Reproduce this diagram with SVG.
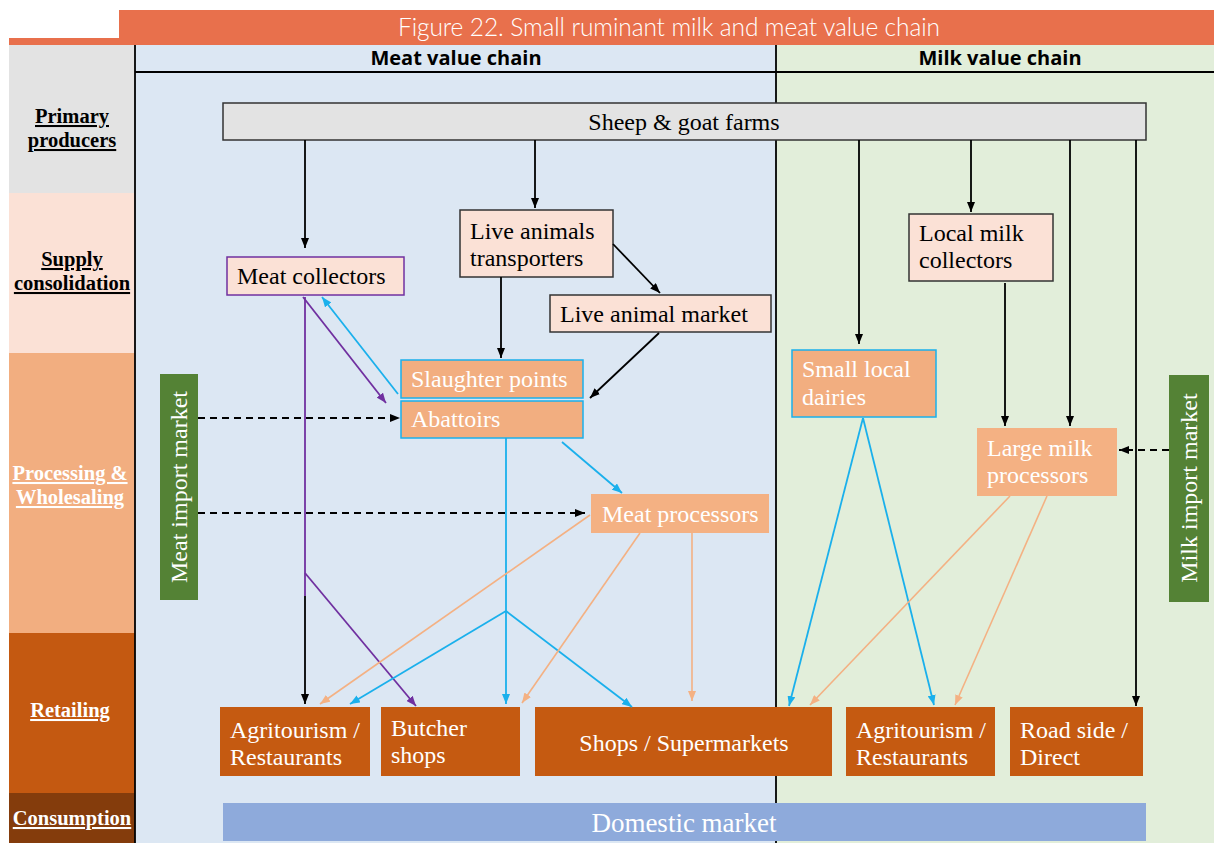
<svg xmlns="http://www.w3.org/2000/svg" width="1214" height="843" viewBox="0 0 1214 843">
<style>
.lbl{font-family:"Liberation Serif",serif;font-weight:bold;font-size:20.5px;text-decoration:underline;text-anchor:middle}
.t{font-family:"Liberation Serif",serif;font-size:24px;fill:#000}
.w{fill:#fff}
.big{font-size:27px}
.hdr{font-family:"Open Sans","Liberation Sans",sans-serif;font-weight:bold;font-size:20px;text-anchor:middle;fill:#000}
.k{stroke:#000;stroke-width:1.8;fill:none}
.d{stroke:#000;stroke-width:1.8;fill:none;stroke-dasharray:7 5}
.b{stroke:#1AB0EC;stroke-width:1.8;fill:none}
.p{stroke:#7030A0;stroke-width:1.8;fill:none}
.o{stroke:#F4B183;stroke-width:1.6;fill:none}
.pink{fill:#FBE1D6}
.proc{fill:#F2AE80}
.ret{fill:#C55A11}
.grn{fill:#548235}
</style>
<defs>
<marker id="ak" viewBox="0 0 10 10" refX="10" refY="5" markerWidth="10" markerHeight="8" markerUnits="userSpaceOnUse" orient="auto" preserveAspectRatio="none"><path d="M0,0L10,5L0,10z" fill="#000"/></marker>
<marker id="ab" viewBox="0 0 10 10" refX="10" refY="5" markerWidth="10" markerHeight="8" markerUnits="userSpaceOnUse" orient="auto" preserveAspectRatio="none"><path d="M0,0L10,5L0,10z" fill="#1AB0EC"/></marker>
<marker id="ap" viewBox="0 0 10 10" refX="10" refY="5" markerWidth="10" markerHeight="8" markerUnits="userSpaceOnUse" orient="auto" preserveAspectRatio="none"><path d="M0,0L10,5L0,10z" fill="#7030A0"/></marker>
<marker id="ao" viewBox="0 0 10 10" refX="10" refY="5" markerWidth="10" markerHeight="8" markerUnits="userSpaceOnUse" orient="auto" preserveAspectRatio="none"><path d="M0,0L10,5L0,10z" fill="#F4B183"/></marker>
</defs>
<rect width="1214" height="843" fill="#fff"/>
<!-- title -->
<g id="title">
<rect x="119" y="10" width="1095" height="35" fill="#E8704C"/>
<rect x="9" y="38" width="110" height="7" fill="#E8704C"/>
<text x="398" y="36" font-family="Lato,'Open Sans',sans-serif" font-weight="300" font-size="24.5" fill="#fff" textLength="542" lengthAdjust="spacing">Figure 22. Small ruminant milk and meat value chain</text>
</g>
<!-- regions -->
<g id="regions">
<rect x="135" y="45" width="641" height="798" fill="#DCE7F3"/>
<rect x="776" y="45" width="438" height="798" fill="#E2EEDA"/>
<rect x="9" y="45" width="126" height="148" fill="#E3E3E3"/>
<rect x="9" y="193" width="126" height="160" fill="#FBE1D6"/>
<rect x="9" y="353" width="126" height="280" fill="#F2AE80"/>
<rect x="9" y="633" width="126" height="160" fill="#C45911"/>
<rect x="9" y="793" width="126" height="50" fill="#843C0C"/>
<line x1="135" y1="45" x2="135" y2="843" stroke="#000" stroke-width="1.8"/>
<line x1="776" y1="45" x2="776" y2="843" stroke="#000" stroke-width="1.8"/>
<line x1="135" y1="72" x2="1214" y2="72" stroke="#000" stroke-width="1.8"/>
<text class="hdr" x="456" y="65">Meat value chain</text>
<text class="hdr" x="1000" y="65">Milk value chain</text>
<text class="lbl" x="72" y="123">Primary</text>
<text class="lbl" x="72" y="147">producers</text>
<text class="lbl" x="72" y="266">Supply</text>
<text class="lbl" x="72" y="290">consolidation</text>
<text class="lbl w" x="70" y="480">Processing &amp;</text>
<text class="lbl w" x="70" y="504">Wholesaling</text>
<text class="lbl w" x="70" y="717">Retailing</text>
<text class="lbl w" x="72" y="825">Consumption</text>
</g>
<!-- nodes -->
<g id="farms"><rect x="223" y="103" width="923" height="37" fill="#E3E3E3" stroke="#333" stroke-width="1.5"/><text class="t" x="684" y="130" text-anchor="middle">Sheep &amp; goat farms</text></g>
<g id="meat-collectors"><rect x="227" y="257" width="177" height="38" class="pink" stroke="#7030A0" stroke-width="1.5"/><text class="t" x="237" y="284">Meat collectors</text></g>
<g id="live-transporters"><rect x="460" y="210" width="153" height="67" class="pink" stroke="#333" stroke-width="1.5"/><text class="t" x="470" y="239">Live animals</text><text class="t" x="470" y="266">transporters</text></g>
<g id="live-market"><rect x="550" y="295" width="221" height="37" class="pink" stroke="#333" stroke-width="1.5"/><text class="t" x="560" y="322">Live animal market</text></g>
<g id="slaughter"><rect x="401" y="360" width="182" height="38" class="proc" stroke="#1AB0EC" stroke-width="1.5"/><text class="t w" x="411" y="387">Slaughter points</text></g>
<g id="abattoirs"><rect x="401" y="401" width="182" height="37" class="proc" stroke="#1AB0EC" stroke-width="1.5"/><text class="t w" x="411" y="427">Abattoirs</text></g>
<g id="meat-processors"><rect x="591" y="494" width="178" height="39" fill="#F4B183"/><text class="t w" x="602" y="522">Meat processors</text></g>
<g id="meat-import"><rect x="160" y="374" width="38" height="226" class="grn"/><text class="t w" x="179" y="495" text-anchor="middle" transform="rotate(-90 179 487)">Meat import market</text></g>
<g id="small-dairies"><rect x="792" y="350" width="144" height="67" class="proc" stroke="#1AB0EC" stroke-width="1.5"/><text class="t w" x="802" y="377">Small  local</text><text class="t w" x="802" y="405">dairies</text></g>
<g id="milk-collectors"><rect x="909" y="214" width="144" height="67" class="pink" stroke="#333" stroke-width="1.5"/><text class="t" x="919" y="241">Local milk</text><text class="t" x="919" y="268">collectors</text></g>
<g id="large-milk"><rect x="977" y="428" width="140" height="68" fill="#F4B183"/><text class="t w" x="987" y="456">Large milk</text><text class="t w" x="987" y="483">processors</text></g>
<g id="milk-import"><rect x="1169" y="375" width="40" height="227" class="grn"/><text class="t w" x="1189" y="496" text-anchor="middle" transform="rotate(-90 1189 488)">Milk import market</text></g>
<g id="agri-meat"><rect x="220" y="707" width="150" height="69" class="ret"/><text class="t w" x="230" y="738">Agritourism /</text><text class="t w" x="230" y="765">Restaurants</text></g>
<g id="butcher"><rect x="381" y="707" width="139" height="69" class="ret"/><text class="t w" x="391" y="736">Butcher</text><text class="t w" x="391" y="763">shops</text></g>
<g id="shops"><rect x="535" y="707" width="297" height="69" class="ret"/><text class="t w" x="684" y="751" text-anchor="middle">Shops / Supermarkets</text></g>
<g id="agri-milk"><rect x="846" y="707" width="149" height="69" class="ret"/><text class="t w" x="856" y="738">Agritourism /</text><text class="t w" x="856" y="765">Restaurants</text></g>
<g id="roadside"><rect x="1010" y="707" width="133" height="69" class="ret"/><text class="t w" x="1020" y="738">Road side /</text><text class="t w" x="1020" y="765">Direct</text></g>
<g id="domestic"><rect x="223" y="803" width="923" height="38" fill="#8EAADB"/><text class="t w big" x="684" y="832" text-anchor="middle">Domestic market</text></g>
<!-- connectors -->
<g id="connectors">
<path class="k" d="M305,140V248" marker-end="url(#ak)"/>
<path class="k" d="M535,140V208" marker-end="url(#ak)"/>
<path class="k" d="M859,140V344" marker-end="url(#ak)"/>
<path class="k" d="M971,140V212" marker-end="url(#ak)"/>
<path class="k" d="M1070,140V426" marker-end="url(#ak)"/>
<path class="k" d="M1136,140V706" marker-end="url(#ak)"/>
<path class="k" d="M501,277V358" marker-end="url(#ak)"/>
<path class="k" d="M613,244L660,293" marker-end="url(#ak)"/>
<path class="k" d="M659,333L590,398" marker-end="url(#ak)"/>
<path class="k" d="M1005,283V426" marker-end="url(#ak)"/>
<path class="k" d="M305,596V704" marker-end="url(#ak)"/>
<path class="d" d="M198,418H400" marker-end="url(#ak)"/>
<path class="d" d="M198,513H585" marker-end="url(#ak)"/>
<path class="d" d="M1169,450H1119" marker-end="url(#ak)"/>
<path class="p" d="M303,297L386,403" marker-end="url(#ap)"/>
<path class="p" d="M305,297V596"/>
<path class="p" d="M305,573L416,706" marker-end="url(#ap)"/>
<path class="b" d="M398,394L322,297" marker-end="url(#ab)"/>
<path class="b" d="M506,438V704" marker-end="url(#ab)"/>
<path class="b" d="M506,611L350,704" marker-end="url(#ab)"/>
<path class="b" d="M506,611L632,707" marker-end="url(#ab)"/>
<path class="b" d="M562,442L622,493" marker-end="url(#ab)"/>
<path class="b" d="M863,418L789,706" marker-end="url(#ab)"/>
<path class="b" d="M863,418L934,705" marker-end="url(#ab)"/>
<path class="o" d="M590,515L320,704" marker-end="url(#ao)"/>
<path class="o" d="M640,533L522,703" marker-end="url(#ao)"/>
<path class="o" d="M692,533V701" marker-end="url(#ao)"/>
<path class="o" d="M1010,496L810,705" marker-end="url(#ao)"/>
<path class="o" d="M1047,496L955,705" marker-end="url(#ao)"/>
</g>
</svg>
